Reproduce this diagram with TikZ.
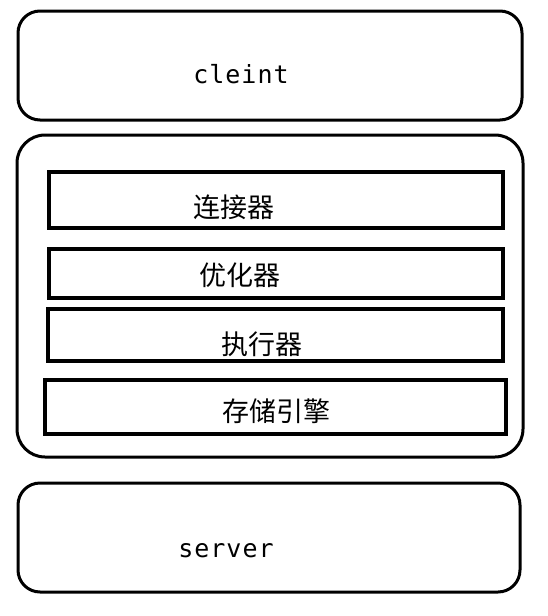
\documentclass[tikz,border=0pt]{standalone}
\usepackage{fontspec}
\newfontfamily\cjkfont{Noto Sans CJK SC}
\newfontfamily\monofont[LetterSpace=4]{DejaVu Sans Mono}
\begin{document}
\begin{tikzpicture}[x=1pt,y=-1pt,
  outerbox/.style={draw=black, line width=3pt, rounded corners=#1, inner sep=0pt},
  innerbox/.style={draw=black, line width=4pt, inner sep=0pt},
  monolabel/.style={inner sep=0pt, anchor=base, font=\monofont\fontsize{25}{29}\selectfont},
  cjklabel/.style={inner sep=0pt, anchor=center, font=\cjkfont\fontsize{27}{30}\selectfont}]
\useasboundingbox (0,0) rectangle (548,616);
% outer rounded boxes
\node[outerbox=22pt, minimum width=504pt, minimum height=109pt] (client) at (270,65.5) {};
\node[outerbox=28pt, minimum width=506pt, minimum height=322pt] (mid) at (270,296) {};
\node[outerbox=22pt, minimum width=502pt, minimum height=109pt] (server) at (269,537.5) {};
% inner boxes
\node[innerbox, minimum width=454pt, minimum height=56pt] (conn) at (276,200) {};
\node[innerbox, minimum width=454pt, minimum height=49.5pt] (opt) at (276,273.5) {};
\node[innerbox, minimum width=455pt, minimum height=52pt] (exec) at (275.5,335) {};
\node[innerbox, minimum width=461pt, minimum height=54pt] (store) at (275.5,407) {};
% labels
\node[monolabel] (clienttext) at (241,83) {cleint};
\node[monolabel] (servertext) at (226,557) {server};
\node[cjklabel] (conntext) at (234,207.5) {连接器};
\node[cjklabel] (opttext) at (240,275) {优化器};
\node[cjklabel] (exectext) at (262,344.5) {执行器};
\node[cjklabel] (storetext) at (276,411) {存储引擎};
\end{tikzpicture}
\end{document}
